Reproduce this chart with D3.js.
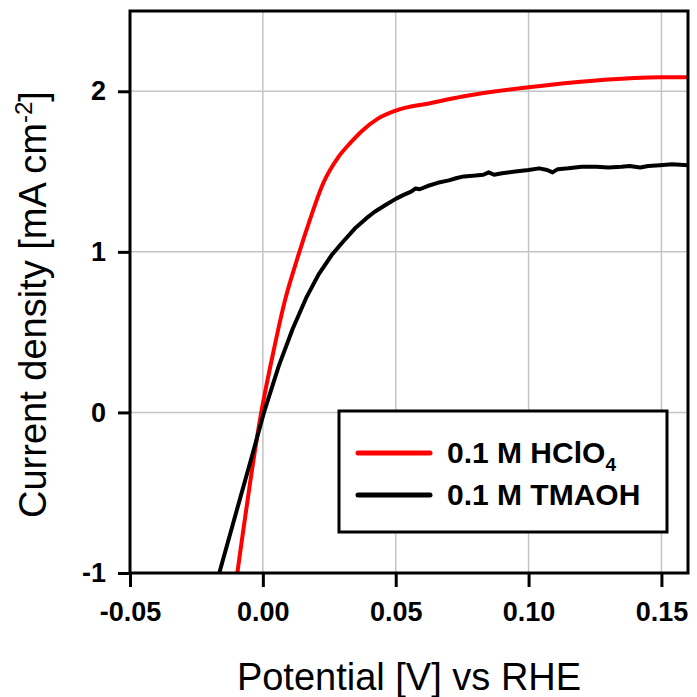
<!DOCTYPE html>
<html>
<head>
<meta charset="utf-8">
<script src="https://cdn.jsdelivr.net/npm/d3@7"></script>
<style>
  body { margin: 0; background: #fff; }
  svg text { font-family: "Liberation Sans", Arial, sans-serif; }
</style>
</head>
<body>
<div id="chart"></div>
<script>
// data
const xTicks = [-0.05, 0.00, 0.05, 0.10, 0.15]
const yTicks = [-1, 0, 1, 2]

const hclo4Potential = [-0.0096, -0.0006, 0.0040, 0.0082, 0.0130, 0.0175, 0.0228, 0.0284, 0.0330, 0.0371, 0.0433, 0.0500, 0.0633, 0.0757, 0.1000, 0.1255, 0.1495, 0.1600]
const hclo4Current = [-1.00, 0.00, 0.38, 0.69, 0.96, 1.19, 1.43, 1.59, 1.68, 1.75, 1.83, 1.88, 1.927, 1.969, 2.025, 2.067, 2.087, 2.087]

const tmaohPotential = [-0.0164, -0.0100, -0.0044, 0.0006, 0.0060, 0.0112, 0.0165, 0.0210, 0.0259, 0.0300, 0.0346, 0.0390, 0.0421, 0.0460, 0.0500, 0.0530, 0.0558, 0.0575, 0.0590, 0.0620, 0.0658, 0.0700, 0.0730, 0.0757, 0.0800, 0.0830, 0.0850, 0.0870, 0.0900, 0.0950, 0.1000, 0.1040, 0.1070, 0.1090, 0.1110, 0.1150, 0.1200, 0.1255, 0.1300, 0.1350, 0.1380, 0.1420, 0.1450, 0.1495, 0.1540, 0.1600]
const tmaohCurrent = [-1.00, -0.62, -0.29, 0.01, 0.29, 0.52, 0.72, 0.86, 0.98, 1.06, 1.145, 1.21, 1.25, 1.29, 1.33, 1.355, 1.375, 1.395, 1.39, 1.41, 1.43, 1.445, 1.46, 1.47, 1.475, 1.48, 1.495, 1.48, 1.49, 1.50, 1.51, 1.52, 1.51, 1.495, 1.515, 1.52, 1.53, 1.53, 1.525, 1.53, 1.535, 1.525, 1.535, 1.54, 1.545, 1.54]

const series = [
  { name: "0.1 M HClO", sub: "4", color: "#ff0000", x: hclo4Potential, y: hclo4Current, curve: d3.curveMonotoneX },
  { name: "0.1 M TMAOH", sub: "", color: "#000000", x: tmaohPotential, y: tmaohCurrent, curve: d3.curveLinear }
]

const width = 697, height = 697
const plotLeft = 130, plotRight = 688, plotTop = 11, plotBottom = 573

const svg = d3.select("#chart").append("svg")
  .attr("width", width)
  .attr("height", height)

const xScale = d3.scaleLinear().domain([-0.05, 0.16]).range([plotLeft, plotRight])
const yScale = d3.scaleLinear().domain([-1, 2.5]).range([plotBottom, plotTop])

/* grid */
const grid = svg.append("g").attr("class", "grid")
grid.selectAll(".gx").data(xTicks.slice(1)).enter()
  .append("line")
  .attr("x1", d => xScale(d)).attr("x2", d => xScale(d))
  .attr("y1", plotTop).attr("y2", plotBottom)
  .style("stroke", "#c4c4c4").style("stroke-width", 1.5)
grid.selectAll(".gy").data(yTicks.slice(1)).enter()
  .append("line")
  .attr("x1", plotLeft).attr("x2", plotRight)
  .attr("y1", d => yScale(d)).attr("y2", d => yScale(d))
  .style("stroke", "#c4c4c4").style("stroke-width", 1.5)

/* lines */
svg.append("clipPath").attr("id", "plotClip")
  .append("rect")
  .attr("x", plotLeft).attr("y", plotTop)
  .attr("width", plotRight - plotLeft).attr("height", plotBottom - plotTop)

const lines = svg.append("g").attr("clip-path", "url(#plotClip)")
series.forEach(s => {
  const pts = s.x.map((v, i) => [v, s.y[i]])
  const line = d3.line()
    .x(d => xScale(d[0]))
    .y(d => yScale(d[1]))
    .curve(s.curve)
  lines.append("path")
    .attr("d", line(pts))
    .style("fill", "none")
    .style("stroke", s.color)
    .style("stroke-width", 4)
    .style("stroke-linejoin", "round")
})

/* axes */
const xAxis = d3.axisBottom(xScale).tickValues(xTicks).tickSize(14).tickSizeOuter(0)
  .tickFormat(d3.format(".2f")).tickPadding(15)
const yAxis = d3.axisLeft(yScale).tickValues(yTicks).tickSize(12).tickSizeOuter(0)
  .tickFormat(d3.format("d")).tickPadding(12)

const gx = svg.append("g")
  .attr("transform", `translate(0, ${plotBottom})`)
  .call(xAxis)
gx.select(".domain").remove()
gx.selectAll("line").style("stroke", "#000").style("stroke-width", 3)
gx.selectAll("text")
  .style("font-size", "27px").style("font-weight", "bold").attr("fill", "#000")
  .text(d => d < 0 ? "-" + d3.format(".2f")(-d) : d3.format(".2f")(d))

const gy = svg.append("g")
  .attr("transform", `translate(${plotLeft}, 0)`)
  .call(yAxis)
gy.select(".domain").remove()
gy.selectAll("line").style("stroke", "#000").style("stroke-width", 3)
gy.selectAll("text")
  .style("font-size", "27px").style("font-weight", "bold").attr("fill", "#000")
  .text(d => d < 0 ? "-" + Math.abs(d) : d)

/* frame */
svg.append("rect")
  .attr("x", plotLeft).attr("y", plotTop)
  .attr("width", plotRight - plotLeft).attr("height", plotBottom - plotTop)
  .style("fill", "none").style("stroke", "#000").style("stroke-width", 3)

/* titles */
svg.append("text")
  .attr("x", (plotLeft + plotRight) / 2).attr("y", 690)
  .attr("text-anchor", "middle")
  .style("font-size", "38px").attr("fill", "#000")
  .text("Potential [V] vs RHE")

const yTitle = svg.append("text")
  .attr("transform", "translate(46, 518) rotate(-90)")
  .attr("text-anchor", "start")
  .style("font-size", "38px").attr("fill", "#000")
yTitle.append("tspan").text("Current density [mA cm")
yTitle.append("tspan").attr("dy", -14).style("font-size", "24px").text("-2")
yTitle.append("tspan").attr("dy", 14).text("]")

/* legend */
const legend = svg.append("g")
legend.append("rect")
  .attr("x", 339).attr("y", 411).attr("width", 328).attr("height", 121)
  .style("fill", "#fff").style("stroke", "#000").style("stroke-width", 3)

series.forEach((s, i) => {
  const ly = 453 + i * 42
  legend.append("line")
    .attr("x1", 358).attr("x2", 430).attr("y1", ly).attr("y2", ly)
    .style("stroke", s.color).style("stroke-width", 5).style("stroke-linecap", "round")
  const t = legend.append("text")
    .attr("x", 447).attr("y", ly + 10)
    .style("font-size", "30px").style("font-weight", "bold").attr("fill", "#000")
  t.append("tspan").text(s.name)
  if (s.sub) t.append("tspan").attr("dy", 8).style("font-size", "19px").text(s.sub)
})
</script>
</body>
</html>
